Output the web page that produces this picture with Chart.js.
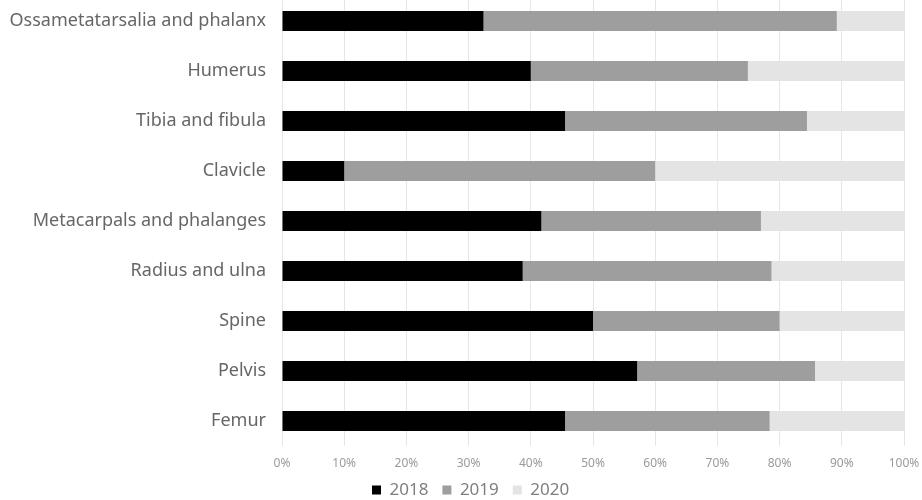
<!DOCTYPE html>
<html>
<head>
<meta charset="utf-8">
<script src="https://cdn.jsdelivr.net/npm/chart.js@4/dist/chart.umd.min.js"></script>
<style>
html,body{margin:0;padding:0;background:#fff;overflow:hidden;}
#wrap{width:922px;height:500px;position:relative;overflow:hidden;}
#c{position:absolute;left:0;top:-4px;}
</style>
</head>
<body>
<div id="wrap"><canvas id="c" width="922" height="504"></canvas></div>
<script>
const categories = ["Ossametatarsalia and phalanx","Humerus","Tibia and fibula","Clavicle","Metacarpals and phalanges","Radius and ulna","Spine","Pelvis","Femur"];
const values2018 = [32.4, 40.0, 45.5, 10.0, 41.7, 38.7, 50.0, 57.1, 45.5];
const values2019 = [56.8, 34.9, 38.9, 50.0, 35.3, 40.0, 30.0, 28.6, 32.9];
const values2020 = [10.8, 25.1, 15.6, 40.0, 23.0, 21.3, 20.0, 14.3, 21.6];
const seriesNames = ["2018","2019","2020"];
const tickValues = [0,10,20,30,40,50,60,70,80,90,100];

const CANVAS_H = 504;      // canvas is shifted up 4px
const PLOT_BOTTOM = 450;   // canvas coords
const LEGEND_H = 22;
const LEGEND_TEXT_Y = 494; // canvas coords
const LEGEND_LEFT = 372;

const legendMover = {
  id: 'legendMover',
  beforeLayout(chart) {
    const lg = chart.legend;
    if (lg && !lg._patched) {
      lg._patched = true;
      const origFit = lg.fit;
      lg.fit = function () { origFit.call(this); this.height = LEGEND_H; };
    }
  },
  afterLayout(chart) {
    const lg = chart.legend;
    if (!lg) return;
    const p = lg.options.labels.padding;
    const fs = lg.options.labels.font.size;
    lg.top = LEGEND_TEXT_Y - p - fs / 2;
    lg.bottom = CANVAS_H;
    lg.height = lg.bottom - lg.top;
    const dx = (LEGEND_LEFT - p) - lg.left;
    lg.left += dx; lg.right += dx;
  }
};

new Chart(document.getElementById('c'), {
  type: 'bar',
  data: {
    labels: categories,
    datasets: [
      {label: seriesNames[0], data: values2018, backgroundColor: '#000000'},
      {label: seriesNames[1], data: values2019, backgroundColor: '#9e9e9e'},
      {label: seriesNames[2], data: values2020, backgroundColor: '#e4e4e4'}
    ]
  },
  plugins: [legendMover],
  options: {
    indexAxis: 'y',
    responsive: false,
    animation: false,
    barPercentage: 0.4,
    categoryPercentage: 1.0,
    layout: {padding: {top: 0, right: 18, bottom: 0, left: 10}},
    plugins: {
      legend: {
        position: 'bottom',
        align: 'start',
        labels: {
          boxWidth: 9, boxHeight: 9, padding: 14,
          color: '#7f7f7f',
          font: {family: 'Noto Sans', size: 17}
        }
      },
      tooltip: {enabled: false}
    },
    scales: {
      x: {
        stacked: true, min: 0, max: 100,
        afterBuildTicks: (s) => { s.ticks = tickValues.map(v => ({value: v})); },
        afterFit: (s) => {
          s.paddingLeft = 0; s.paddingRight = 0;
          s.height = CANVAS_H - PLOT_BOTTOM - LEGEND_H;
        },
        ticks: {
          callback: (v) => v + '%',
          color: '#9a9a9a',
          font: {family: 'Noto Sans', size: 12},
          padding: 10,
          maxRotation: 0,
          autoSkip: false
        },
        grid: {color: '#e6e6e6', drawTicks: false},
        border: {display: false}
      },
      y: {
        stacked: true,
        afterFit: (s) => { s.width = 272; s.paddingTop = 0; s.paddingBottom = 0; },
        ticks: {
          color: '#666666',
          font: {family: 'Noto Sans', size: 18},
          padding: 16
        },
        grid: {display: false, drawTicks: false},
        border: {display: false}
      }
    }
  }
});
</script>
</body>
</html>
